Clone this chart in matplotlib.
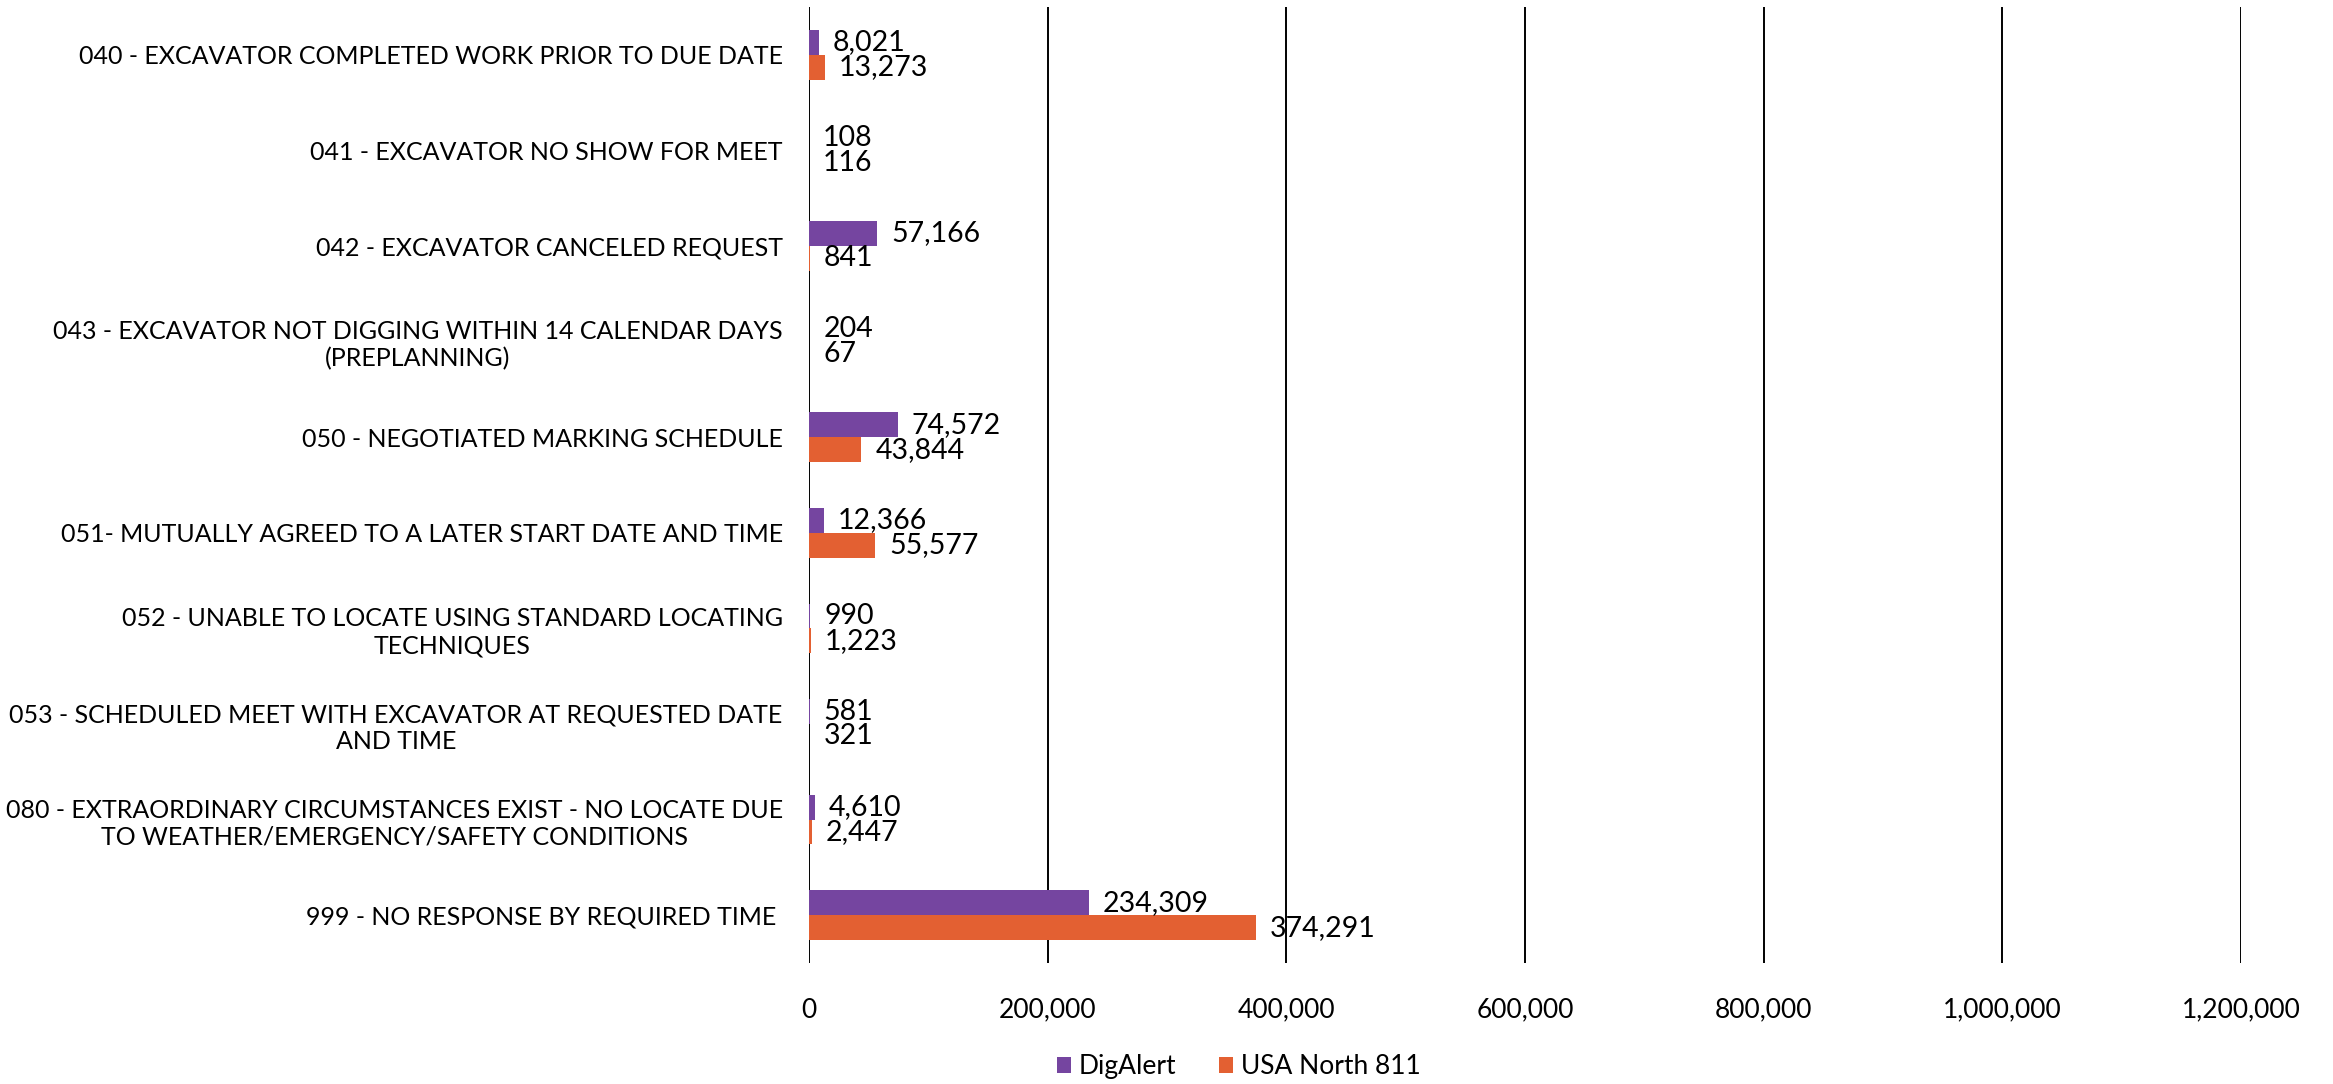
import numpy as np
import matplotlib.pyplot as plt
from matplotlib.ticker import FuncFormatter

plt.rcParams['font.family'] = ['Lato', 'DejaVu Sans']

# Дані
categories = [
    "040 - EXCAVATOR COMPLETED WORK PRIOR TO DUE DATE",
    "041 - EXCAVATOR NO SHOW FOR MEET",
    "042 - EXCAVATOR CANCELED REQUEST",
    "043 - EXCAVATOR NOT DIGGING WITHIN 14 CALENDAR DAYS\n(PREPLANNING)",
    "050 - NEGOTIATED MARKING SCHEDULE",
    "051- MUTUALLY AGREED TO A LATER START DATE AND TIME",
    "052 - UNABLE TO LOCATE USING STANDARD LOCATING\nTECHNIQUES",
    "053 - SCHEDULED MEET WITH EXCAVATOR AT REQUESTED DATE\nAND TIME",
    "080 - EXTRAORDINARY CIRCUMSTANCES EXIST - NO LOCATE DUE\nTO WEATHER/EMERGENCY/SAFETY CONDITIONS",
    "999 - NO RESPONSE BY REQUIRED TIME ",
]
digalert = [8021, 108, 57166, 204, 74572, 12366, 990, 581, 4610, 234309]
usa_north = [13273, 116, 841, 67, 43844, 55577, 1223, 321, 2447, 374291]
series_names = ["DigAlert", "USA North 811"]
colors = ["#7545A0", "#E36032"]
x_ticks = [0, 200000, 400000, 600000, 800000, 1000000, 1200000]

fig = plt.figure(figsize=(23.33, 10.84), dpi=100)
ax = fig.add_axes([0.3468, 0.1116, 0.6138, 0.882])

y = np.arange(len(categories))
h = 0.26
b1 = ax.barh(y - h / 2, digalert, height=h, color=colors[0], label=series_names[0])
b2 = ax.barh(y + h / 2, usa_north, height=h, color=colors[1], label=series_names[1])

fmt = lambda v: f"{v:,.0f}"
ax.bar_label(b1, labels=[fmt(v) for v in digalert], padding=10, fontsize=20.5)
ax.bar_label(b2, labels=[fmt(v) for v in usa_north], padding=10, fontsize=20.5)

ax.set_ylim(len(categories) - 0.5, -0.5)
ax.set_xlim(0, 1200000)
ax.set_xticks(x_ticks)
ax.xaxis.set_major_formatter(FuncFormatter(lambda v, p: fmt(v)))
ax.set_yticks(y)
ax.set_yticklabels(categories, multialignment="center")
ax.tick_params(axis="x", length=0, pad=25, labelsize=19)
ax.tick_params(axis="y", length=0, pad=19, labelsize=18)

for s in ax.spines.values():
    s.set_visible(False)
ax.grid(axis="x", color="black", linewidth=1.4)
ax.set_axisbelow(True)

fig.legend(loc="center", bbox_to_anchor=(0.531, 0.0157), ncol=2, frameon=False,
           fontsize=19, handlelength=0.55, handleheight=0.55, handletextpad=0.3,
           columnspacing=1.6)

fig.savefig("out.png", dpi=100)
